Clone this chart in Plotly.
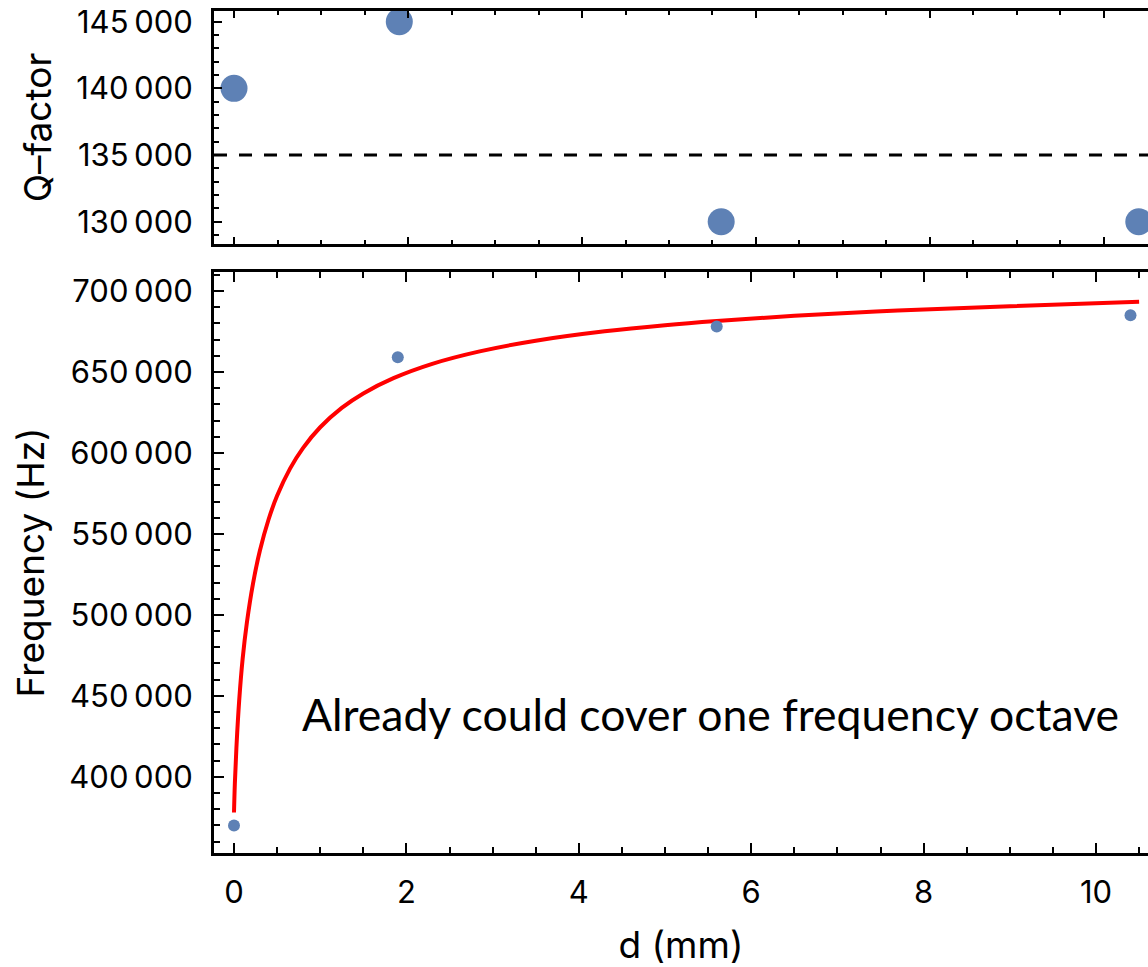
import plotly.graph_objects as go

# ---- data ----
d_mm = [0.0, 1.9, 5.6, 10.4]
q_factor = [140000, 145000, 130000, 130000]
frequency_hz = [370000, 659000, 678000, 685000]
q_reference = 135000

# fitted curve
fit_d = [0.0, 0.01, 0.03, 0.06, 0.1, 0.15, 0.22, 0.3, 0.4, 0.5, 0.65, 0.8,
         1.0, 1.25, 1.5, 1.85, 2.3, 2.85, 3.5, 4.3, 5.0, 5.6, 6.5, 7.7, 9.0, 10.5]
fit_f = [378000, 396000, 420000, 447000, 472800, 495400, 519150, 539550,
         558750, 573500, 590300, 603000, 615850, 627800, 636750, 646150,
         655000, 662700, 669250, 675050, 678850, 681450, 684650, 687900,
         690600, 693300]

q_ticks = [130000, 135000, 140000, 145000]
f_ticks = [400000, 450000, 500000, 550000, 600000, 650000, 700000]
d_ticks = [0, 2, 4, 6, 8, 10]

note = "Already could cover one frequency octave"

W, H = 1148, 967
BLUE = "#5E81B5"
FONT = "Inter"

fig = go.Figure()

fig.add_trace(go.Scatter(x=d_mm, y=q_factor, mode="markers",
                         marker=dict(size=27, color=BLUE),
                         xaxis="x", yaxis="y", showlegend=False))
fig.add_trace(go.Scatter(x=fit_d, y=fit_f, mode="lines",
                         line=dict(color="#FF0000", width=4, shape="spline", smoothing=1.0),
                         xaxis="x2", yaxis="y2", showlegend=False))
fig.add_trace(go.Scatter(x=d_mm, y=frequency_hz, mode="markers",
                         marker=dict(size=12, color=BLUE),
                         xaxis="x2", yaxis="y2", showlegend=False))

x0 = 214 / W
top_dom = [(H - 244) / H, (H - 11) / H]
bot_dom = [(H - 853) / H, (H - 272) / H]

tickfont = dict(family=FONT, size=31, color="black")
titlefont = dict(family=FONT, size=37, color="black")

def xax(rng, anchor, labels, maj, mnr, title=None):
    d = dict(domain=[x0, 1], range=rng, anchor=anchor, automargin=False,
             showline=True, linecolor="black", linewidth=3, mirror="ticks",
             ticks="inside", ticklen=maj, tickwidth=2, tickcolor="black",
             tickmode="array", tickvals=d_ticks, showticklabels=labels,
             tickfont=tickfont, showgrid=False, zeroline=False,
             minor=dict(ticks="inside", ticklen=mnr, tickwidth=2, tickcolor="black",
                        tickmode="linear", tick0=0, dtick=0.5, showgrid=False),
             ticklabelstandoff=10)
    if title:
        d["title"] = dict(text=title, font=titlefont, standoff=23)
    return d

def yax(rng, dom, anchor, vals, mdt, maj, mnr, title):
    return dict(domain=dom, range=rng, anchor=anchor, automargin=False,
                showline=True, linecolor="black", linewidth=3, mirror=False,
                ticks="inside", ticklen=maj, tickwidth=2, tickcolor="black",
                tickmode="array", tickvals=vals, tickformat=",d",
                tickfont=tickfont, showgrid=False, zeroline=False,
                minor=dict(ticks="inside", ticklen=mnr, tickwidth=2, tickcolor="black",
                           tickmode="linear", tick0=0, dtick=mdt, showgrid=False),
                ticklabelstandoff=12,
                title=dict(text=title, font=titlefont, standoff=14))

fig.update_layout(
    width=W, height=H, autosize=False,
    margin=dict(l=0, r=0, t=0, b=0, pad=0),
    paper_bgcolor="white", plot_bgcolor="white",
    separators=".\u2009",
    xaxis=xax([-0.230, 10.506], "y", False, 7, 4),
    yaxis=yax([128330, 145800], top_dom, "x", q_ticks, 1000, 8, 5, "Q\u2013factor"),
    xaxis2=xax([-0.232, 10.603], "y2", True, 10, 6, "d (mm)"),
    yaxis2=yax([353000, 711700], bot_dom, "x2", f_ticks, 10000, 10, 6, "Frequency (Hz)"),
    shapes=[dict(type="line", xref="x domain", yref="y", x0=0, x1=1,
                 y0=q_reference, y1=q_reference,
                 line=dict(color="black", width=3, dash="13px,12px"))],
    annotations=[dict(text=note, xref="paper", yref="paper",
                      x=710.5 / W, y=(H - 713) / H, xanchor="center", yanchor="middle",
                      showarrow=False, font=dict(family="Lato", size=44.5, color="black"))],
)

fig.write_html("out.html", config={"displayModeBar": False},
               post_script="document.body.style.margin='0';document.body.style.overflow='hidden';")
